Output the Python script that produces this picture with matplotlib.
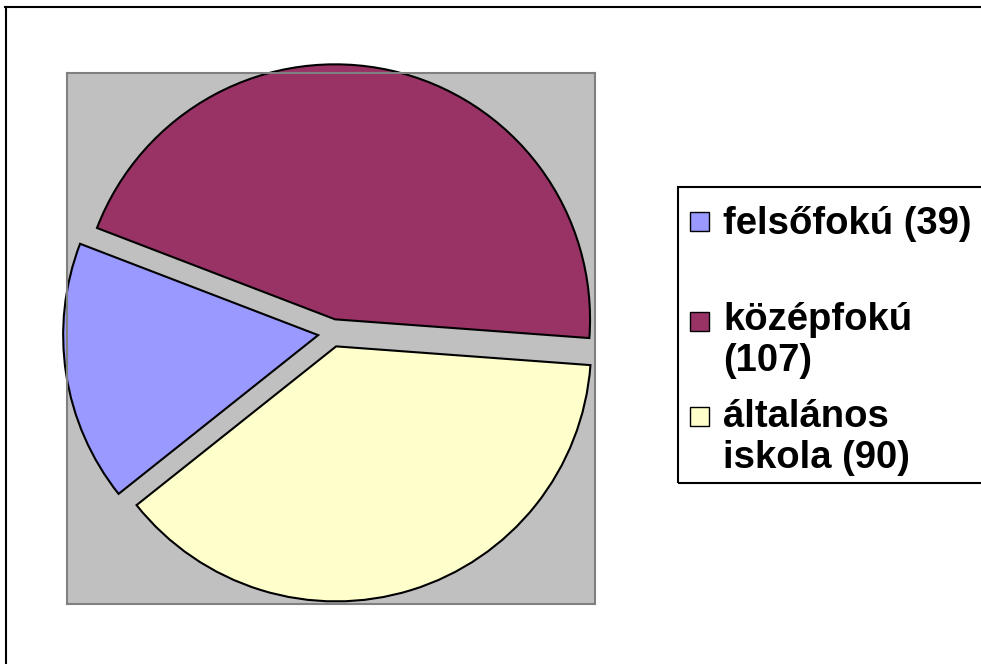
import matplotlib.pyplot as plt
from matplotlib.patches import Rectangle
from matplotlib.lines import Line2D

# data
labels = ['felsőfokú (39)', 'középfokú\n(107)', 'általános\niskola (90)']
values = [39, 107, 90]
colors = ['#9999FF', '#993366', '#FFFFCC']

W, H = 981, 664
fig = plt.figure(figsize=(W / 100, H / 100), dpi=100)


def fx(x):
    return x / W


def fy(y):
    return 1 - y / H


# plot area (data units = pixels)
ax = fig.add_axes([fx(67), fy(604), (595 - 67) / W, (604 - 73) / H])
wedges, _ = ax.pie(values, colors=colors, startangle=218.5, counterclock=False,
                   explode=[14] * 3, radius=255, center=(332, 331), frame=True,
                   wedgeprops=dict(edgecolor='black', linewidth=1.5))
for w in wedges:
    w.set_clip_on(False)
ax.set_xlim(67, 595)
ax.set_ylim(H - 604, H - 73)
ax.set_aspect('auto')
ax.set_facecolor('#C0C0C0')
ax.set_xticks([])
ax.set_yticks([])
for s in ax.spines.values():
    s.set_color('#808080')
    s.set_linewidth(1.5)

# outer chart border (only left/top visible)
fig.add_artist(Line2D([fx(5.5), fx(5.5)], [fy(7), 0], color='black', lw=1.5,
                      transform=fig.transFigure))
fig.add_artist(Line2D([fx(5), 1], [fy(7), fy(7)], color='black', lw=1.5,
                      transform=fig.transFigure))

# legend box
fig.add_artist(Rectangle((fx(678), fy(483)), 1, (483 - 187) / H, fill=False,
                         edgecolor='black', lw=1.5, transform=fig.transFigure))

first_base = [234, 330, 427]
marker_top = [212, 312, 407]
step = 41
for lab, col, base, mt in zip(labels, colors, first_base, marker_top):
    fig.add_artist(Rectangle((fx(690), fy(mt + 19)), 19 / W, 19 / H,
                             facecolor=col, edgecolor='black', lw=1,
                             transform=fig.transFigure))
    for i, line in enumerate(lab.split('\n')):
        fig.text(fx(723), fy(base + i * step), line, fontsize=27.5,
                 fontweight='bold', family='Liberation Sans', va='baseline')

fig.savefig('out.png', dpi=100)
